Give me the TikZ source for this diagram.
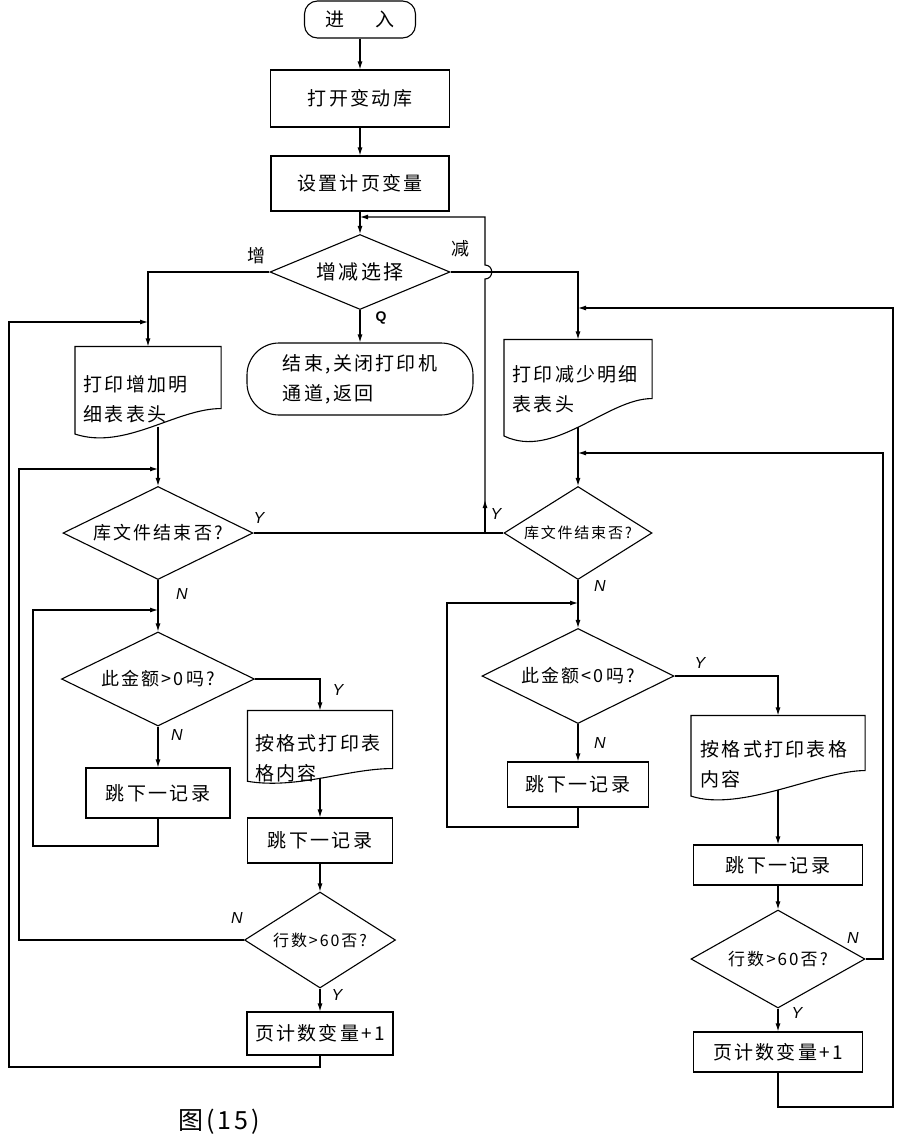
\documentclass[tikz,border=0pt]{standalone}
\usepackage{fontspec}
\setmainfont{Liberation Sans}
\newfontfamily\cjk[LetterSpace=12]{Noto Sans CJK SC}
\usetikzlibrary{calc, positioning, arrows.meta, shapes.geometric}

\tikzset{
  wh/.style 2 args={minimum width=#1pt, minimum height=#2pt},
  box/.style={rectangle, draw, inner sep=0pt, font=\cjk\fontsize{19}{30}\selectfont},
  term/.style={rectangle, draw, rounded corners=#1, inner sep=0pt, align=left, font=\cjk\fontsize{19}{30}\selectfont},
  decide/.style={diamond, draw, aspect=2, inner sep=0pt, font=\cjk\fontsize{18}{22}\selectfont},
  doc/.style={rectangle, inner sep=0pt, align=left, font=\cjk\fontsize{19}{30}\selectfont},
  lab/.style={inner sep=0pt, font=\itshape\fontsize{16}{16}\selectfont},
  cjklab/.style={inner sep=0pt, font=\cjk\fontsize{18}{18}\selectfont},
}

\begin{document}
\begin{tikzpicture}[x=1pt, y=-1pt, line width=1.1pt, >={Latex[length=8pt,width=5pt]}]
\path[use as bounding box, fill=white] (0,0) rectangle (904,1138);

% main column
\node[term=13pt, wh={111}{37}] (start) at (360,19.5) {进\hspace{1.6em}入};
\node[box, wh={179}{57}] (B1) at (360,98.5) {打开变动库};
\node[box, wh={178}{55}] (B2) at (360,183.5) {设置计页变量};
\node[decide, wh={180}{75}, font=\cjk\fontsize{20}{24}\selectfont] (D0) at (360,272) {增减选择};
\node[term=32pt, wh={226}{72}] (End) at (360,379) {结束,关闭打印机\\通道,返回};

% left side
\node[doc, wh={145}{91}, text width=129pt, text depth=18pt] (DL1) at (148,392.5) {打印增加明\\细表表头};
\node[decide, wh={190}{93}] (D1L) at (158,533) {库文件结束否?};
\node[decide, wh={193}{94}] (D2L) at (158,679) {此金额>0吗?};
\node[box, wh={144}{50}] (J1L) at (158,793) {跳下一记录};
\node[doc, wh={144}{72}, text width=130pt, text depth=9pt] (DL2) at (320,747) {按格式打印表\\格内容};
\node[box, wh={145}{45}] (J2L) at (320,840.5) {跳下一记录};
\node[decide, wh={151}{96}, font=\cjk\fontsize{16}{20}\selectfont] (D3L) at (320,940) {行数>60否?};
\node[box, wh={146}{43}] (P1L) at (320,1033.5) {页计数变量+1};

% right side
\node[doc, wh={147}{102}, text width=131pt, text depth=36pt] (DR1) at (578,391) {打印减少明细\\表表头};
\node[decide, wh={148}{93}, font=\cjk\fontsize{15}{18}\selectfont] (D1R) at (578,533) {库文件结束否?};
\node[decide, wh={192}{95}] (D2R) at (578,676) {此金额<0吗?};
\node[box, wh={141}{45}] (J1R) at (578,784.5) {跳下一记录};
\node[doc, wh={173}{84}, text width=155pt, text depth=20pt] (DR2) at (778,758) {按格式打印表格\\内容};
\node[box, wh={169}{40}] (J2R) at (778,865) {跳下一记录};
\node[decide, wh={174}{98}, font=\cjk\fontsize{17}{20}\selectfont] (D3R) at (778,959) {行数>60否?};
\node[box, wh={169}{40}] (P1R) at (778,1052) {页计数变量+1};

\node[font=\cjk\fontsize{25}{25}\selectfont] (cap) at (219,1122) {图(15)};

% document outlines
\foreach \d/\r in {DL1/30pt, DR1/44pt, DL2/15pt, DR2/30pt}
  \draw (\d.north west) -- (\d.north east) -- ([yshift=\r]\d.south east)
    .. controls ([xshift=-45pt, yshift=\r]\d.south east) and ([xshift=50pt, yshift=-0.4*\r]\d.south west)
    .. ([yshift=0.15*\r]\d.south west) -- cycle;

% joints
\coordinate (back) at (360,217);
\coordinate (jy) at (485,533);
\coordinate (inH1) at (148,322);  \coordinate (cH1) at (9,1067);
\coordinate (inL1) at (158,469);  \coordinate (cL1) at (19,469);
\coordinate (inL2) at (158,610);  \coordinate (cL2) at (33,846);
\coordinate (inH2) at (578,308);  \coordinate (cH2) at (893,1107);
\coordinate (inR1) at (578,453);  \coordinate (cR1) at (883,453);
\coordinate (inR2) at (578,603);  \coordinate (cR2) at (447,827);

\draw[->] (start) -- (B1);
\draw[->] (B1) -- (B2);
\draw[->] (B2) -- (D0);
\draw[->] (D0.west) -| (DL1.north);
\draw[->] (D0.south) -- (End.north);
\draw[->] (D0.east) -| (DR1.north);
\draw[->] ([yshift=12pt]DL1.south -| D1L.north) -- (D1L.north);
\draw[->] ([yshift=16pt]DR1.south) -- (D1R.north);

% Y of both file tests back to choice
\draw (D1L.east) -- (D1R.west);
\draw[->] (jy) -- ([yshift=-7pt]jy |- D0.east) .. controls +(9,0) and +(9,0) .. ([yshift=7pt]jy |- D0.east) |- (back);
\draw[->] (jy) -- ++(0,-33);

% left loops
\draw[->] (D1L.south) -- (D2L.north);
\draw[->] (D2L.east) -| (DL2.north);
\draw[->] (D2L.south) -- (J1L.north);
\draw[->] (J1L.south) |- (cL2) |- (inL2);
\draw[->] ([yshift=5.5pt]DL2.south) -- (J2L.north);
\draw[->] (J2L) -- (D3L);
\draw[->] (D3L.west) -| (cL1) -- (inL1);
\draw[->] (D3L.south) -- (P1L.north);
\draw[->] (P1L.south) |- (cH1) |- (inH1);

% right loops
\draw[->] (D1R.south) -- (D2R.north);
\draw[->] (D2R.east) -| (DR2.north);
\draw[->] (D2R.south) -- (J1R.north);
\draw[->] (J1R.south) |- (cR2) |- (inR2);
\draw[->] ([yshift=11pt]DR2.south) -- (J2R.north);
\draw[->] (J2R) -- (D3R);
\draw[->] (D3R.east) -| (cR1) -- (inR1);
\draw[->] (D3R.south) -- (P1R.north);
\draw[->] (P1R.south) |- (cH2) |- (inH2);

% labels
\node[cjklab] (zeng) at (256,256) {增};
\node[cjklab] (jian) at (460,249) {减};
\node[inner sep=0pt, font=\bfseries\fontsize{14}{14}\selectfont] (q) at (381,318) {Q};
\node[lab] (y1l) at (259,518) {Y};
\node[lab] (y1r) at (496,514) {Y};
\node[lab] (n1l) at (182,594) {N};
\node[lab] (n1r) at (600,586) {N};
\node[lab] (y2l) at (338,690) {Y};
\node[lab] (n2l) at (177,735) {N};
\node[lab] (y2r) at (700,663) {Y};
\node[lab] (n2r) at (600,743) {N};
\node[lab] (n3l) at (237,918) {N};
\node[lab] (y3l) at (337,995) {Y};
\node[lab] (n3r) at (853,938) {N};
\node[lab] (y3r) at (797,1013) {Y};
\end{tikzpicture}
\end{document}
